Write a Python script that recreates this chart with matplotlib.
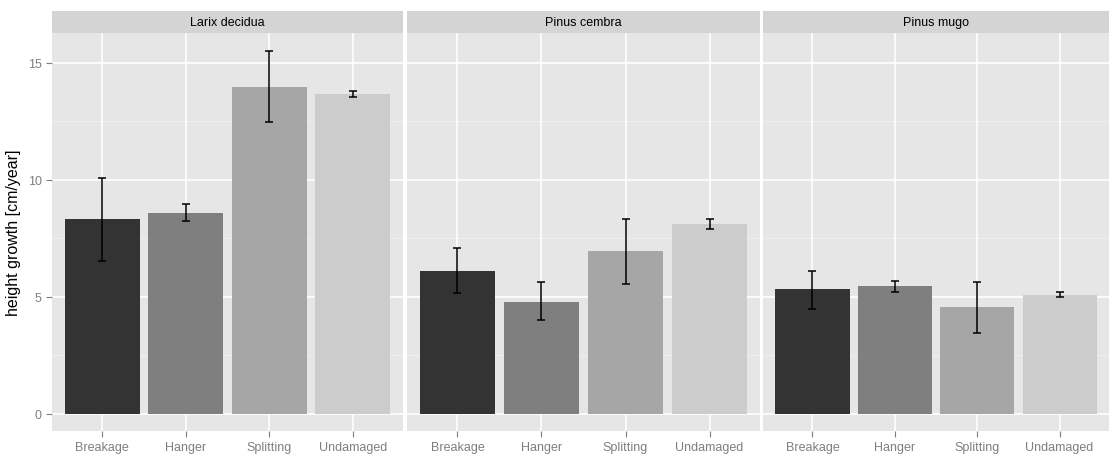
import matplotlib
matplotlib.use("Agg")
import matplotlib.pyplot as plt
import numpy as np

plt.rcParams['font.family'] = ['Liberation Sans', 'DejaVu Sans']

species = ["Larix decidua", "Pinus cembra", "Pinus mugo"]
categories = ["Breakage", "Hanger", "Splitting", "Undamaged"]
means = {
    "Larix decidua": [8.33, 8.59, 13.97, 13.68],
    "Pinus cembra": [6.11, 4.79, 6.97, 8.12],
    "Pinus mugo": [5.34, 5.47, 4.57, 5.09],
}
lower = {
    "Larix decidua": [6.54, 8.25, 12.48, 13.55],
    "Pinus cembra": [5.17, 4.02, 5.56, 7.90],
    "Pinus mugo": [4.49, 5.21, 3.46, 5.00],
}
upper = {
    "Larix decidua": [10.08, 8.97, 15.50, 13.80],
    "Pinus cembra": [7.09, 5.64, 8.33, 8.33],
    "Pinus mugo": [6.11, 5.68, 5.64, 5.21],
}
bar_colors = ["#333333", "#7f7f7f", "#a6a6a6", "#cccccc"]
yticks = [0, 5, 10, 15]

W, H = 1109, 456
fig = plt.figure(figsize=(W / 100, H / 100), dpi=100)
fig.patch.set_facecolor("white")

panels_x = [(52, 403), (407, 760), (763, 1109)]
top_strip, bot_strip = 12, 34
plot_bottom = 432

ylim = (-0.73, 16.28)
for i, sp in enumerate(species):
    x0, x1 = panels_x[i]
    ax = fig.add_axes([x0 / W, 1 - plot_bottom / H, (x1 - x0) / W, (plot_bottom - bot_strip) / H])
    ax.set_facecolor("#e6e6e6")
    for s in ax.spines.values():
        s.set_visible(False)
    xs = np.arange(1, len(categories) + 1)
    for yv in [2.5, 7.5, 12.5]:
        ax.axhline(yv, color="#f0f0f0", lw=0.6, zorder=0)
    ax.grid(True, which="major", color="white", lw=1.2, zorder=0)
    ax.set_axisbelow(True)
    m = np.array(means[sp])
    lo = np.array(lower[sp])
    up = np.array(upper[sp])
    ax.bar(xs, m, width=0.9, color=bar_colors, zorder=2)
    ax.errorbar(xs, m, yerr=[m - lo, up - m], fmt="none", ecolor="black",
                elinewidth=1.1, capsize=2.6, capthick=1.1, zorder=3)
    ax.set_xlim(0.4, 4.6)
    ax.set_ylim(*ylim)
    ax.set_xticks(xs)
    ax.set_xticklabels(categories, color="#7f7f7f", fontsize=9)
    ax.set_yticks(yticks)
    if i == 0:
        ax.set_yticklabels([str(v) for v in yticks], color="#7f7f7f", fontsize=9)
        ax.set_ylabel("height growth [cm/year]", fontsize=11.5, color="black", labelpad=5)
    else:
        ax.tick_params(axis="y", left=False, labelleft=False)
    ax.tick_params(axis="both", color="#7f7f7f", length=4, width=0.8)
    sax = fig.add_axes([x0 / W, 1 - bot_strip / H, (x1 - x0) / W, (bot_strip - top_strip) / H])
    sax.set_facecolor("#d4d4d4")
    sax.set_xticks([])
    sax.set_yticks([])
    for s in sax.spines.values():
        s.set_visible(False)
    sax.text(0.5, 0.5, sp, ha="center", va="center", fontsize=9, color="black",
             transform=sax.transAxes)

fig.savefig("out.png", dpi=100)
